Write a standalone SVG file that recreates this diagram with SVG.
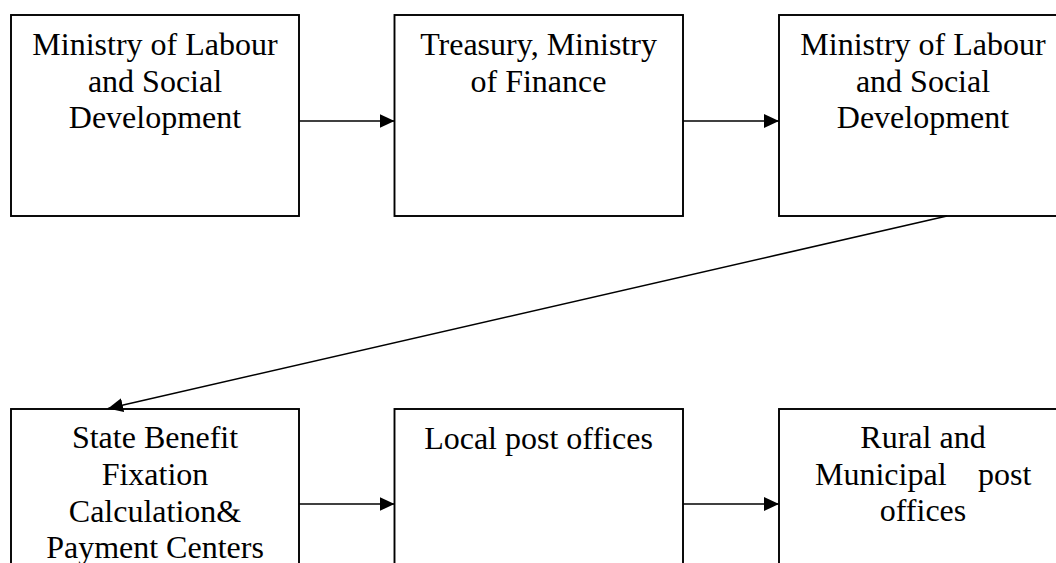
<svg xmlns="http://www.w3.org/2000/svg" width="1056" height="563" viewBox="0 0 1056 563">
<style>
.box{fill:#fff;stroke:#000;stroke-width:1.9}
.lbl{font-family:"Liberation Serif","Times New Roman",serif;font-size:32px;fill:#000;text-anchor:middle}
.con{stroke:#000;stroke-width:1.6;fill:none;marker-end:url(#ah)}
</style>
<defs>
<marker id="ah" viewBox="0 0 15 14" refX="15" refY="7" markerWidth="15" markerHeight="14" markerUnits="userSpaceOnUse" orient="auto">
<path d="M0,0 L15,7 L0,14 z" fill="#000"/>
</marker>
</defs>
<rect width="1056" height="563" fill="#fff"/>
<g id="n1">
<rect class="box" x="11" y="15" width="288" height="201"/>
<text class="lbl" x="155" y="55">Ministry of Labour</text>
<text class="lbl" x="155" y="92">and Social</text>
<text class="lbl" x="155" y="128">Development</text>
</g>
<g id="n2">
<rect class="box" x="394.5" y="15" width="288.5" height="201"/>
<text class="lbl" x="538.5" y="55">Treasury, Ministry</text>
<text class="lbl" x="538.5" y="92">of Finance</text>
</g>
<g id="n3">
<rect class="box" x="779" y="15" width="288" height="201"/>
<text class="lbl" x="923" y="55">Ministry of Labour</text>
<text class="lbl" x="923" y="92">and Social</text>
<text class="lbl" x="923" y="128">Development</text>
</g>
<g id="n4">
<rect class="box" x="11" y="409" width="288" height="200"/>
<text class="lbl" x="155" y="448">State Benefit</text>
<text class="lbl" x="155" y="485">Fixation</text>
<text class="lbl" x="155" y="522">Calculation&amp;</text>
<text class="lbl" x="155" y="558">Payment Centers</text>
</g>
<g id="n5">
<rect class="box" x="394.5" y="409" width="288.5" height="200"/>
<text class="lbl" x="538.5" y="449">Local post offices</text>
</g>
<g id="n6">
<rect class="box" x="779" y="409" width="288" height="200"/>
<text class="lbl" x="923" y="448">Rural and</text>
<text class="lbl" y="485" style="text-anchor:start"><tspan x="815">Municipal</tspan><tspan x="978">post</tspan></text>
<text class="lbl" x="923" y="521">offices</text>
</g>
<g id="connectors">
<line class="con" x1="299" y1="121" x2="394.5" y2="121"/>
<line class="con" x1="683" y1="121" x2="779" y2="121"/>
<line class="con" x1="947" y1="216" x2="108" y2="408.5"/>
<line class="con" x1="299" y1="504" x2="394.5" y2="504"/>
<line class="con" x1="683" y1="504" x2="779" y2="504"/>
</g>
</svg>
